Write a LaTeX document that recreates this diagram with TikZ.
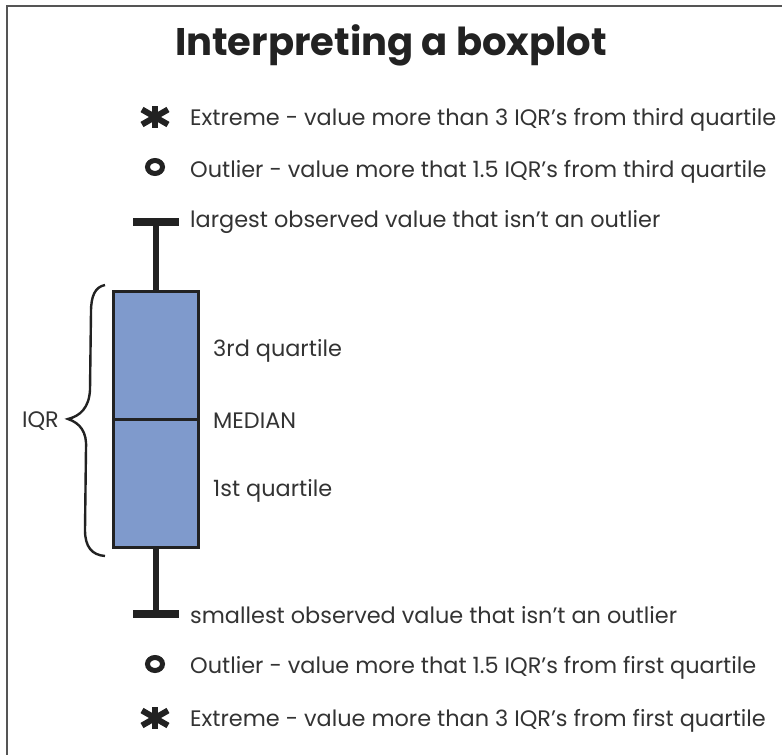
\documentclass[tikz,border=0pt]{standalone}
\usepackage{fontspec}
\setmainfont{Poppins}
\definecolor{boxfill}{HTML}{7F9ACC}
\definecolor{ink}{HTML}{222222}
\definecolor{txt}{HTML}{333333}
\definecolor{framec}{HTML}{555555}
\begin{document}
\begin{tikzpicture}[x=1pt,y=-1pt,
  frameline/.style={draw=framec, line width=1.8pt},
  titlestyle/.style={inner sep=0, text=ink, font=\fontsize{38.5}{44}\selectfont\bfseries},
  lbl/.style={anchor=west, inner sep=0, text=txt, font=\fontsize{22.4}{26}\selectfont},
  quart/.style={draw=ink, fill=boxfill, line width=3pt, minimum width=85pt, minimum height=128pt, inner sep=0},
  whisker/.style={draw=ink, line width=6pt},
  capline/.style={draw=ink, line width=8pt},
  bracestyle/.style={draw=ink, line width=2.4pt},
  ringmark/.style={draw=ink, line width=5pt},
  astarm/.style={draw=ink, line width=6pt},
  asterisk/.pic={
    \foreach \a/\l in {90/11,270/11,30/15,150/15,210/15,330/15}
      \draw[astarm] (0,0) -- (\a:\l);
  }
]
\useasboundingbox (0,0) rectangle (782,755);
\draw[frameline] (7,756) -- (7,6) -- (783,6);

\node[titlestyle] (title) at (391,45) {Interpreting a boxplot};

% legend top
\pic at (155,117) {asterisk};
\node[lbl] (ext3) at (190,120) {Extreme - value more than 3 IQR's from third quartile};
\draw[ringmark] (155,167) ellipse (7.5pt and 6.5pt);
\node[lbl] (out3) at (190,172) {Outlier - value more that 1.5 IQR's from third quartile};

% box
\node[quart] (uq) at (156,355) {};
\node[quart] (lq) at (156,483) {};

% whiskers
\coordinate (tcap) at (156,222);
\coordinate (bcap) at (156,614);
\draw[whisker] (uq.north) -- (tcap);
\draw[whisker] (lq.south) -- (bcap);
\draw[capline] ([xshift=-23pt]tcap) -- ([xshift=23pt]tcap);
\draw[capline] ([xshift=-23pt]bcap) -- ([xshift=23pt]bcap);
\node[quart, fill=none] at (156,355) {};
\node[quart, fill=none] at (156,483) {};

\node[lbl] (largest) at (190,222) {largest observed value that isn't an outlier};
\node[lbl] (q3lbl) at (213,351) {3rd quartile};
\node[lbl] (medlbl) at (213,421) {MEDIAN};
\node[lbl] (q1lbl) at (213,491) {1st quartile};
\node[lbl] (smallest) at (190,615) {smallest observed value that isn't an outlier};

% brace
\draw[bracestyle] (105,285) .. controls (95,287) and (91,296) .. (91,312)
  -- (90,390) .. controls (89,408) and (80,416) .. (68,419)
  .. controls (80,423) and (87,432) .. (86,448)
  -- (85,530) .. controls (85,547) and (92,555) .. (105,556);
\node[lbl, anchor=east] (iqr) at (59,421) {IQR};

% legend bottom
\draw[ringmark] (155,664) ellipse (7.5pt and 6.5pt);
\node[lbl] (out1) at (190,668) {Outlier - value more that 1.5 IQR's from first quartile};
\pic at (155,718) {asterisk};
\node[lbl] (ext1) at (190,721) {Extreme - value more than 3 IQR's from first quartile};
\end{tikzpicture}
\end{document}
